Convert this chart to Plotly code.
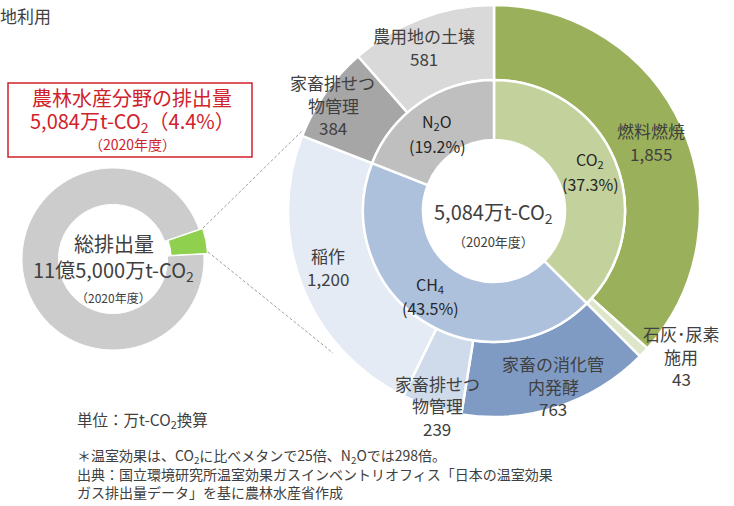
import plotly.graph_objects as go

W, H = 734, 506
FONT = "Noto Sans CJK JP"
TXT = "#404040"
RED = "#d0222b"

# ---- data ----
gas_labels = ["CO<sub>2</sub>", "CH<sub>4</sub>", "N<sub>2</sub>O"]
gas_pct = [37.3, 43.5, 19.2]
src_labels = ["燃料燃焼", "石灰・尿素施用", "家畜の消化管内発酵", "家畜排せつ物管理",
              "稲作", "家畜排せつ物管理", "農用地の土壌"]
src_gas = ["CO2", "CO2", "CH4", "CH4", "CH4", "N2O", "N2O"]
src_values = [1855, 43, 763, 239, 1200, 384, 581]
total_label = ["農林水産分野", "その他"]
national_total = 115000   # 万t-CO2
agri_total = 5084         # 万t-CO2

gas_keys = ["CO2", "CH4", "N2O"]
gas_values = [sum(v for v, g in zip(src_values, src_gas) if g == k) for k in gas_keys]

gas_colors = ["#c3d29c", "#adc1dc", "#bfbfbf"]
src_colors = ["#9bb05a", "#dde6c8", "#7f9bc4", "#cfdaea", "#e4ebf4", "#a6a6a6", "#d9d9d9"]


def px(x):
    return x / W


def py(y):
    return 1 - y / H


def dom(cx, cy, r):
    return dict(x=[px(cx - r), px(cx + r)], y=[py(cy + r), py(cy - r)])


CX, CY = 494, 211
R_OUT, R_MID, R_HOLE = 206, 131, 71

fig = go.Figure()
fig.add_trace(go.Pie(
    values=src_values, labels=[f"{l}{i}" for i, l in enumerate(src_labels)],
    sort=False, direction="clockwise", rotation=0,
    hole=R_MID / R_OUT, domain=dom(CX, CY, R_OUT),
    marker=dict(colors=src_colors, line=dict(color="white", width=2.5)),
    textinfo="none", hoverinfo="label+value", showlegend=False))
fig.add_trace(go.Pie(
    values=gas_values, labels=gas_keys,
    sort=False, direction="clockwise", rotation=0,
    hole=R_HOLE / R_MID, domain=dom(CX, CY, R_MID),
    marker=dict(colors=gas_colors, line=dict(color="white", width=2.5)),
    textinfo="none", hoverinfo="label+value", showlegend=False))

# small donut (national total)
SCX, SCY, SR = 113, 259, 91
pull = 0.04
fig.add_trace(go.Pie(
    values=[agri_total, national_total - agri_total], labels=total_label,
    sort=False, direction="clockwise", rotation=71, pull=[pull, 0],
    hole=0.6, domain=dom(SCX, SCY, SR * (1 + pull)),
    marker=dict(colors=["#8fd14f", "#cccccc"], line=dict(color="white", width=1)),
    textinfo="none", hoverinfo="label+value", showlegend=False))

ann = []


def T(x, y, text, size=17, color=TXT, anchor="center"):
    ann.append(dict(x=px(x), y=py(y), xref="paper", yref="paper", text=text,
                    showarrow=False, xanchor=anchor, yanchor="middle",
                    font=dict(family=FONT, size=size, color=color)))


def fmt(v):
    return f"{v:,}"


# outer labels
T(424, 35, src_labels[6]); T(424, 58, fmt(src_values[6]))
T(332, 83, "家畜排せつ"); T(333, 105, "物管理"); T(333, 128, fmt(src_values[5]))
T(651, 130, src_labels[0]); T(651, 153, fmt(src_values[0]))
T(328, 255, src_labels[4]); T(328, 278, fmt(src_values[4]))
T(681, 333, "石灰･尿素"); T(681, 356, "施用"); T(681, 378, fmt(src_values[1]))
T(553, 363, "家畜の消化管"); T(553, 386, "内発酵"); T(553, 408, fmt(src_values[2]))
T(437, 383, "家畜排せつ"); T(437, 405, "物管理"); T(437, 428, fmt(src_values[3]))

# inner labels
IC = "#262626"
T(437, 122, gas_labels[2], 16, IC); T(437, 146, f"({gas_pct[2]}%)", 16, IC)
T(590, 160, gas_labels[0], 16, IC); T(590, 184, f"({gas_pct[0]}%)", 16, IC)
T(430, 284, gas_labels[1], 16, IC); T(430, 308, f"({gas_pct[1]}%)", 16, IC)

# center
T(494, 212, f"{agri_total:,}万t-CO<sub>2</sub>", 20)
T(494, 241, "（2020年度）", 13)

# small donut center
T(114, 243, "総排出量", 20)
T(114, 270, "11億5,000万t-CO<sub>2</sub>", 20)
T(114, 297, "（2020年度）", 12)

# red box
T(132, 97, "農林水産分野の排出量", 20, RED)
T(132, 122, f"{agri_total:,}万t-CO<sub>2</sub>（{agri_total / national_total * 100:.1f}%）", 20, RED)
T(132, 144, "（2020年度）", 14, RED)

# top-left fragment
T(-2, 15, "地利用", 17, TXT, "left")

# footnotes
T(75, 420, "単位：万t-CO<sub>2</sub>換算", 15.5, TXT, "left")
T(75, 456, "＊温室効果は、CO<sub>2</sub>に比べメタンで25倍、N<sub>2</sub>Oでは298倍。", 14, TXT, "left")
T(75, 474, "出典：国立環境研究所温室効果ガスインベントリオフィス「日本の温室効果", 14, TXT, "left")
T(75, 492, "ガス排出量データ」を基に農林水産省作成", 14, TXT, "left")

shapes = [
    dict(type="rect", xref="paper", yref="paper", x0=px(8), x1=px(252), y0=py(157), y1=py(83),
         line=dict(color=RED, width=1.5)),
    dict(type="line", xref="paper", yref="paper", x0=px(203), y0=py(228), x1=px(303), y1=py(130),
         line=dict(color="#a0a0a0", width=1, dash="3px,2px")),
    dict(type="line", xref="paper", yref="paper", x0=px(208), y0=py(252), x1=px(333), y1=py(353),
         line=dict(color="#a0a0a0", width=1, dash="3px,2px")),
]

fig.update_layout(width=W, height=H, margin=dict(l=0, r=0, t=0, b=0),
                  paper_bgcolor="white", plot_bgcolor="white",
                  annotations=ann, shapes=shapes, font=dict(family=FONT))
fig.write_html("out.html", config={"displayModeBar": False},
               post_script="document.body.style.margin='0';document.body.style.overflow='hidden';")
